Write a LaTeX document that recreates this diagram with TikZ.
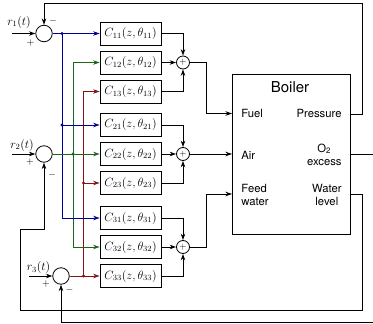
\documentclass[tikz,border=0pt]{standalone}
\usepackage{fontspec}
\newfontfamily\heros{TeX Gyre Heros}
\usetikzlibrary{arrows.meta}
\definecolor{cblue}{RGB}{0,0,150}
\definecolor{cgreen}{RGB}{30,100,30}
\definecolor{cred}{RGB}{130,20,20}
\begin{document}
\begin{tikzpicture}[x=1pt,y=-1pt,
  line width=0.8pt,
  >={Stealth[length=6.5pt,width=4.5pt]},
  cbox/.style={draw,minimum width=61pt,minimum height=23pt,inner sep=0pt,font=\fontsize{12}{14}\selectfont},
  sumL/.style={draw,circle,minimum size=16.5pt,inner sep=0pt},
  sumR/.style={draw,circle,minimum size=13pt,inner sep=0pt,font=\fontsize{9}{9}\selectfont},
  lbl/.style={font=\heros\fontsize{11.3}{13}\selectfont,inner sep=0pt},
  sgn/.style={font=\fontsize{10}{10}\selectfont,inner sep=0pt},
  rlbl/.style={font=\fontsize{12}{14}\selectfont,inner sep=0pt},
  jdot/.style={circle,fill,inner sep=0pt,minimum size=3.4pt},
  cb/.style={draw=cblue,line width=0.75pt},
  cg/.style={draw=cgreen,line width=0.75pt},
  cr/.style={draw=cred,line width=0.75pt}]
\useasboundingbox (0,0) rectangle (373,324);

% left summing junctions
\node[sumL] (s1) at (44,33.5) {};
\node[sumL] (s2) at (44,154) {};
\node[sumL] (s3) at (61,276) {};

% controller blocks
\node[cbox] (C11) at (130.5,33.5) {$C_{11}(z,\theta_{11})$};
\node[cbox] (C12) at (130.5,62.5) {$C_{12}(z,\theta_{12})$};
\node[cbox] (C13) at (130.5,91.5) {$C_{13}(z,\theta_{13})$};
\node[cbox] (C21) at (130.5,125) {$C_{21}(z,\theta_{21})$};
\node[cbox] (C22) at (130.5,154) {$C_{22}(z,\theta_{22})$};
\node[cbox] (C23) at (130.5,183) {$C_{23}(z,\theta_{23})$};
\node[cbox] (C31) at (130.5,218) {$C_{31}(z,\theta_{31})$};
\node[cbox] (C32) at (130.5,247) {$C_{32}(z,\theta_{32})$};
\node[cbox] (C33) at (130.5,276) {$C_{33}(z,\theta_{33})$};

% right summing junctions
\node[sumR] (a1) at (183,62.5) {$+$};
\node[sumR] (a2) at (183,154) {$+$};
\node[sumR] (a3) at (183,247) {$+$};

% boiler
\node[draw,minimum width=118pt,minimum height=160pt,inner sep=0pt] (boiler) at (291,154) {};
\node[lbl,font=\heros\fontsize{15}{17}\selectfont] (btitle) at (290,87) {Boiler};
\node[lbl,anchor=west] (lfuel) at (241,113.5) {Fuel};
\node[lbl,anchor=west] (lair) at (241,155) {Air};
\node[lbl,anchor=west,align=left] (lfeed) at (241,194.5) {Feed\\water};
\node[lbl,anchor=east] (lpress) at (342,113.5) {Pressure};
\node[lbl,anchor=east,align=center] (lox) at (342,154.5) {O\textsubscript{2}\\excess};
\node[lbl,anchor=east,align=center] (lwat) at (342,194.5) {Water\\level};

\coordinate (fuel) at (232,113.5);
\coordinate (air) at (232,154);
\coordinate (feed) at (232,194);
\coordinate (press) at (350,114);
\coordinate (oxo) at (350,154);
\coordinate (wlev) at (350,194);

% references
\coordinate (r1s) at (12,33.5);
\coordinate (r2s) at (12,154);
\coordinate (r3s) at (29,276);
\draw[->] (r1s) -- (s1.west);
\draw[->] (r2s) -- (s2.west);
\draw[->] (r3s) -- (s3.west);
\node[rlbl] (r1l) at (19,22) {$r_1(t)$};
\node[rlbl] (r2l) at (22,145) {$r_2(t)$};
\node[rlbl] (r3l) at (38.5,267.5) {$r_3(t)$};
\node[sgn] (p1) at (30.5,43) {$+$};
\node[sgn] (m1) at (53,21) {$-$};
\node[sgn] (p2) at (30,162) {$+$};
\node[sgn] (m2) at (52,175) {$-$};
\node[sgn] (p3) at (46,283.5) {$+$};
\node[sgn] (m3) at (69.5,290) {$-$};

% distribution lines
\coordinate (bj1) at (62,33.5);
\coordinate (bj2) at (62,125);
\coordinate (gj) at (73,154);
\coordinate (rj1) at (83.5,183);
\coordinate (rj2) at (83.5,276);

\draw[cr,->] (rj2) |- (C13.west);
\draw[cr,->] (rj1) -- (C23.west);
\draw[cg,->] (gj) |- (C12.west);
\draw[cg,->] (gj) |- (C32.west);
\draw[cb,->] (bj1) |- (C31.west);
\draw[cb,->] (bj2) -- (C21.west);
\draw[cb,->] (s1.east) -- (C11.west);
\draw[cg,->] (s2.east) -- (C22.west);
\draw[cr,->] (s3.east) -- (C33.west);
\node[jdot,cblue] at (bj1) {};
\node[jdot,cblue] at (bj2) {};
\node[jdot,cgreen] at (gj) {};
\node[jdot,cred] at (rj1) {};
\node[jdot,cred] at (rj2) {};

% controller outputs to adders
\draw[->] (C11.east) -| (a1.north);
\draw[->] (C12.east) -- (a1.west);
\draw[->] (C13.east) -| (a1.south);
\draw[->] (C21.east) -| (a2.north);
\draw[->] (C22.east) -- (a2.west);
\draw[->] (C23.east) -| (a2.south);
\draw[->] (C31.east) -| (a3.north);
\draw[->] (C32.east) -- (a3.west);
\draw[->] (C33.east) -| (a3.south);

% adders to boiler
\draw[->] (a1.east) -- (206,62.5) |- (fuel);
\draw[->] (a2.east) -- (air);
\draw[->] (a3.east) -- (206.5,247) |- (feed);

% feedback
\draw[->] (press) -- (362,114) -- (362,3.5) -| (s1.north);
\draw[->] (oxo) -- (385,154) -- (385,322.5) -| (s3.south);
\draw[->] (wlev) -- (362.5,194) -- (362.5,310) -- (20,310) -- (20,229.5) -| (s2.south);
\end{tikzpicture}
\end{document}
